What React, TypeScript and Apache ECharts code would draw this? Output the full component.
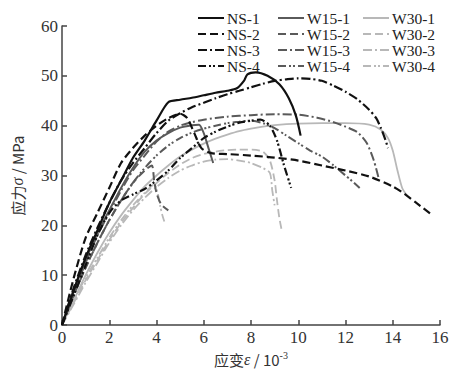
import React, { useEffect, useRef } from "react";
import * as echarts from "echarts";

// strain (10^-3), stress (MPa)
const ns1 = [[0,0],[0.5,7],[1,13.5],[1.5,19],[2,24.5],[2.5,29],[3,33.5],[3.5,37],[4,41],[4.5,44.7],[5,45.2],[5.5,45.6],[6,46.1],[6.5,46.6],[7,47],[7.4,47.5],[7.7,49],[7.85,50.3],[8.2,50.7],[8.7,50],[9.2,48.3],[9.6,45.5],[9.9,42],[10.1,38]];
const ns2 = [[0,0],[0.5,9.5],[1,17.5],[1.5,22.5],[2,27.5],[2.5,32.5],[3,35.5],[3.5,38],[4,40],[4.5,41.5],[5,42.4],[5.3,41.5],[5.6,38.5],[5.9,35.5],[6.3,34.5],[7,34.3],[8,34],[9,33.6],[10,33],[11,32],[12,31],[13,29.8],[14,27.8],[14.5,26.3],[15,24.5],[15.6,22.3]];
const ns3 = [[0,0],[0.5,7.5],[1,14],[1.5,19.5],[2,24.5],[2.5,29],[3,32.5],[3.5,35.5],[4,38.5],[4.5,41],[5,42.5],[5.5,43.7],[6,44.6],[6.5,45.5],[7,46.3],[7.5,47],[8,47.7],[8.5,48.4],[9,49],[9.5,49.3],[10,49.5],[10.5,49.4],[11,49],[11.5,48],[12,46.8],[12.5,45.3],[13,43.2],[13.3,41.5],[13.5,39.5],[13.7,37],[13.8,35.5]];
const ns4 = [[0,0],[0.5,6],[1,12],[1.5,18],[2,22.5],[2.5,25],[3,26.2],[3.5,27.3],[4,29],[4.5,31],[5,33.5],[5.5,35.5],[6,37.5],[6.5,38.8],[7,39.8],[7.5,40.6],[8,41],[8.4,41.2],[8.8,40],[9.1,37],[9.4,32],[9.7,27.5]];
const w151 = [[0,0],[0.5,7],[1,13],[1.5,18.5],[2,23],[2.5,27.5],[3,31.5],[3.5,34.8],[4,37],[4.5,38.5],[5,39.6],[5.5,40.1],[5.8,40.2],[6,38.5],[6.2,35.5],[6.4,32.5]];
const w152 = [[0,0],[0.5,6],[1,11.5],[1.5,16.5],[2,21],[2.5,25],[3,28.5],[3.5,31],[3.8,32],[3.9,29],[4,26.5],[4.2,24.2],[4.5,23]];
const w153 = [[0,0],[0.5,6.5],[1,12.5],[1.5,18],[2,22.5],[2.5,27],[3,31],[3.5,34],[4,36.8],[4.5,38.8],[5,40],[5.5,40.7],[6,41.2],[7,41.8],[8,42.1],[9,42.3],[10,42.2],[10.8,41.6],[11.5,40.7],[12,39.8],[12.5,38.7],[12.9,36.5],[13.2,33],[13.4,29.5]];
const w154 = [[0,0],[0.5,6],[1,11.5],[1.5,16.5],[2,21],[2.5,25],[3,28.5],[3.5,31.5],[4,34],[4.5,36],[5,37.5],[5.5,38.6],[6,39.4],[6.5,40],[7,40.5],[7.5,40.8],[8,41],[8.5,40.5],[9,39.5],[9.5,38],[10,36.5],[10.5,35],[11,33.8],[11.5,32],[12,30],[12.3,28.8],[12.6,27.5]];
const w301 = [[0,0],[0.5,5],[1,10],[1.5,14.5],[2,18.5],[2.5,22],[3,25],[3.5,27.8],[4,30],[4.5,32],[5,33.8],[5.5,35.2],[6,36.4],[6.5,37.4],[7,38.2],[7.5,38.9],[8,39.4],[8.5,39.8],[9,40.1],[10,40.4],[11,40.5],[12,40.5],[13,40.2],[13.5,39.2],[13.8,37.5],[14,35],[14.2,31],[14.4,27.5],[14.6,26]];
const w302 = [[0,0],[0.5,4.5],[1,9],[1.5,13],[2,17],[2.5,20.5],[3,23.5],[3.5,26.3],[4,28.5],[4.5,30.5],[5,32.2],[5.5,33.5],[6,34.3],[6.5,34.8],[7,35.1],[7.5,35.2],[8,35.2],[8.5,34.8],[8.8,33],[9,29],[9.1,25],[9.2,21.5],[9.3,19]];
const w303 = [[0,0],[0.5,4.2],[1,8.5],[1.5,12.5],[2,16.5],[2.5,20],[3,23],[3.5,25.5],[4,27.7],[4.5,29.5],[5,31],[5.5,32],[6,32.8],[6.5,33.2],[7,33.3],[7.5,33],[8,32.5],[8.5,31.5],[8.8,30.5],[8.9,27],[9,24]];
const w304 = [[0,0],[0.5,5],[1,9.5],[1.5,13.5],[2,17.5],[2.5,21],[3,24],[3.5,26.5],[3.9,28.2],[4.05,26.5],[4.15,24],[4.25,22],[4.35,20.5]];

const seriesNames = ["NS-1","NS-2","NS-3","NS-4","W15-1","W15-2","W15-3","W15-4","W30-1","W30-2","W30-3","W30-4"];
const seriesData = [ns1, ns2, ns3, ns4, w151, w152, w153, w154, w301, w302, w303, w304];

const xTicks = { min: 0, max: 16, interval: 2 };
const yTicks = { min: 0, max: 60, interval: 10 };

const groupColors = ["#111111", "#5a5a5a", "#b8b8b8"];
const groupWidths = [2.2, 2, 1.8];
const dashTypes: any[] = ["solid", [8, 4], [9, 3, 2, 3], [8, 3, 2, 2, 2, 3]];

export default function App() {
  const ref = useRef<HTMLDivElement>(null);
  useEffect(() => {
    const chart = echarts.init(ref.current!, undefined, { renderer: "svg" });
    const font = "'Liberation Serif', 'Times New Roman', serif";
    const series = seriesNames.map((name, i) => {
      const g = Math.floor(i / 4);
      const d = i % 4;
      return {
        name,
        type: "line",
        data: seriesData[i],
        symbol: "none",
        smooth: 0.25,
        z: 10 - g,
        lineStyle: { color: groupColors[g], width: groupWidths[g], type: dashTypes[d] },
        itemStyle: { color: groupColors[g] },
      };
    });
    const legendBase = {
      orient: "vertical",
      top: 5,
      itemWidth: 26,
      itemHeight: 10,
      itemGap: 0,
      itemStyle: { opacity: 0 },
      textStyle: { fontFamily: font, fontSize: 15.5, color: "#222", padding: [0, 0, 0, -2] },
    };
    chart.setOption({
      animation: false,
      backgroundColor: "#ffffff",
      grid: { left: 62, right: 15, top: 26, bottom: 50 },
      legend: [
        { ...legendBase, left: 192, data: seriesNames.slice(0, 4) },
        { ...legendBase, left: 272, data: seriesNames.slice(4, 8) },
        { ...legendBase, left: 357, data: seriesNames.slice(8, 12) },
      ],
      xAxis: {
        type: "value",
        ...xTicks,
        name: "应变{e|ε} / 10{s|-3}",
        nameLocation: "middle",
        nameGap: 24,
        nameTextStyle: {
          fontFamily: "'Noto Sans CJK SC', serif",
          fontSize: 15,
          color: "#333",
          rich: {
            e: { fontFamily: font, fontStyle: "italic", fontSize: 16, color: "#333" },
            s: { fontFamily: font, fontSize: 10, color: "#333", verticalAlign: "top", padding: [0, 0, 8, 0] },
          },
        },
        axisLine: { show: true, lineStyle: { color: "#444", width: 1.5 } },
        axisTick: { show: true, inside: true, length: 5, lineStyle: { color: "#444", width: 1.5 } },
        axisLabel: { fontFamily: font, fontSize: 17, color: "#333", margin: 4 },
        splitLine: { show: false },
      },
      yAxis: {
        type: "value",
        ...yTicks,
        name: "应力{e|σ} / MPa",
        nameLocation: "middle",
        nameGap: 37,
        nameRotate: 90,
        nameTextStyle: {
          fontFamily: "'Noto Sans CJK SC', serif",
          fontSize: 15,
          color: "#333",
          rich: {
            e: { fontFamily: font, fontStyle: "italic", fontSize: 16, color: "#333" },
          },
        },
        axisLine: { show: true, lineStyle: { color: "#444", width: 1.5 } },
        axisTick: { show: true, inside: true, length: 5, lineStyle: { color: "#444", width: 1.5 } },
        axisLabel: { fontFamily: font, fontSize: 17, color: "#333", margin: 4 },
        splitLine: { show: false },
      },
      series,
    });
    return () => chart.dispose();
  }, []);
  return <div ref={ref} style={{ width: 455, height: 375, position: "absolute", left: 0, top: 0 }} />;
}
